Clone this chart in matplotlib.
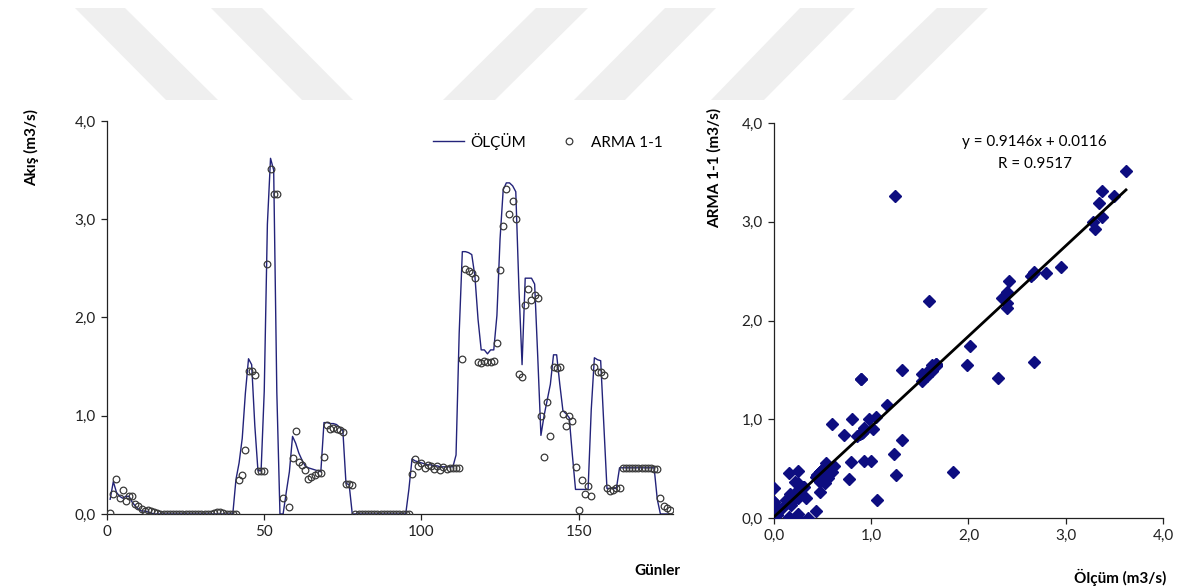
import numpy as np
import matplotlib.pyplot as plt
from matplotlib.patches import Polygon
from matplotlib.lines import Line2D

plt.rcParams['font.family'] = ['Lato', 'DejaVu Sans']

# daily observed flow (ÖLÇÜM), days 1..179
olcum = [0.15, 0.33, 0.22, 0.18, 0.16, 0.18, 0.18, 0.12, 0.08, 0.05,
         0.03, 0.03, 0.02, 0.01] + [0.0] * 26 + \
        [0.35, 0.52, 0.77, 1.23, 1.58, 1.52, 0.90, 0.44, 0.44, 1.25,
         2.95, 3.62, 3.50, 1.24, 0.0, 0.0, 0.22, 0.43, 0.79, 0.72,
         0.62, 0.55, 0.49, 0.47, 0.46, 0.45, 0.44, 0.43, 0.93, 0.93,
         0.92, 0.92, 0.91, 0.88, 0.85, 0.31, 0.30] + [0.0] * 18 + \
        [0.25, 0.56, 0.54, 0.53, 0.52, 0.51, 0.50, 0.50, 0.49, 0.49,
         0.48, 0.48, 0.48, 0.48, 0.48, 0.60, 1.84, 2.67, 2.67, 2.66,
         2.64, 2.42, 1.98, 1.67, 1.67, 1.63, 1.67, 1.67, 2.02, 2.80,
         3.30, 3.37, 3.37, 3.34, 3.28, 2.30, 1.52, 2.40, 2.40, 2.40,
         2.34, 1.59, 0.80, 1.00, 1.16, 1.32, 1.62, 1.62, 1.32, 1.05,
         1.02, 0.98, 0.60, 0.25, 0.25, 0.25, 0.25, 0.25, 1.06, 1.59,
         1.57, 1.56, 0.90, 0.26, 0.26, 0.26, 0.26, 0.47] + [0.47] * 10 + \
        [0.47, 0.15, 0.0, 0.0, 0.0, 0.0]

# ARMA(1,1) model output for the same days (negative values fall below the axis)
arma = [0.01, 0.20, 0.36, 0.16, 0.24, 0.13, 0.18, 0.18, 0.10, 0.08,
        0.05, 0.03, 0.04, 0.03, 0.02, 0.01] + [0.0] * 17 + \
       [0.01, 0.02, 0.02, 0.01, 0.0, 0.0, 0.0,
        0.0, 0.35, 0.40, 0.65, 1.46, 1.46, 1.41, 0.44, 0.44, 0.44,
        2.54, 3.51, 3.26, 3.26, -0.45, 0.16, -0.25, 0.07, 0.57, 0.84,
        0.53, 0.50, 0.45, 0.36, 0.38, 0.40, 0.42, 0.42, 0.58, 0.91,
        0.87, 0.88, 0.86, 0.85, 0.83, 0.31, 0.31, 0.30] + [0.0] * 17 + \
       [0.0, 0.41, 0.56, 0.49, 0.52, 0.47, 0.50, 0.49, 0.46, 0.49,
        0.45, 0.48, 0.46, 0.47, 0.47, 0.47, 0.47, 1.58, 2.49, 2.47,
        2.45, 2.40, 1.55, 1.54, 1.56, 1.55, 1.55, 1.56, 1.74, 2.48,
        2.93, 3.31, 3.05, 3.19, 3.00, 1.42, 1.39, 2.13, 2.29, 2.18,
        2.23, 2.20, 1.00, 0.58, 1.14, 0.79, 1.50, 1.49, 1.50, 1.02,
        0.90, 1.00, 0.95, 0.48, 0.04, 0.35, 0.20, 0.28, 0.18, 1.50,
        1.44, 1.45, 1.41, 0.26, 0.23, 0.24, 0.26, 0.26] + [0.47] * 10 + \
       [0.46, 0.46, 0.16, 0.08, 0.06, 0.04]

days = np.arange(1, len(olcum) + 1)

# regression reported in the chart
slope, intercept, r_value = 0.9146, 0.0116, 0.9517

y_ticks = [0, 1, 2, 3, 4]
x_ticks_left = [0, 50, 100, 150]

line_color = '#23237a'
diamond_color = '#0d0d80'
circle_color = '#3a3a3a'


def comma_fmt(v):
    return f'{v:.1f}'.replace('.', ',')


fig = plt.figure(figsize=(11.84, 5.87), dpi=100)

# light watermark stripes at the top
stripes = [
    [(75, 8), (125, 8), (218, 100), (166, 100)],
    [(211, 8), (262, 8), (353, 100), (302, 100)],
    [(536, 8), (588, 8), (495, 100), (443, 100)],
    [(665, 8), (716, 8), (625, 100), (574, 100)],
    [(800, 8), (855, 8), (764, 100), (711, 100)],
    [(937, 8), (988, 8), (895, 100), (842, 100)],
]
for s in stripes:
    pts = [(x / 1184, 1 - y / 587) for x, y in s]
    fig.patches.append(Polygon(pts, closed=True, transform=fig.transFigure,
                               facecolor='#efefef', edgecolor='none', zorder=0))

# ---- left: time series
ax1 = fig.add_axes([0.0904, 0.1244, 0.478, 0.6695])
ax1.plot(days, olcum, color=line_color, lw=1.0, label='ÖLÇÜM', zorder=2)
ax1.plot(days, arma, linestyle='none', marker='o', ms=4.8, mfc='none',
         mec=circle_color, mew=0.9, label='ARMA 1-1', zorder=3)
ax1.set_xlim(0, 180)
ax1.set_ylim(0, 4)
ax1.set_xticks(x_ticks_left)
ax1.set_yticks(y_ticks)
ax1.set_yticklabels([comma_fmt(v) for v in y_ticks])

handles = [Line2D([], [], color=line_color, lw=1.0),
           Line2D([], [], linestyle='none', marker='o', ms=4.8, mfc='none',
                  mec=circle_color, mew=0.9)]
ax1.legend(handles, ['ÖLÇÜM', 'ARMA 1-1'], loc='upper left',
           bbox_to_anchor=(0.552, 1.005), ncol=2, frameon=False,
           fontsize=11, handlelength=2.0, handletextpad=0.45,
           columnspacing=1.8)

fig.text(32 / 1184, 1 - 148 / 587, 'Akış (m3/s)', rotation=90,
         ha='center', va='center', fontsize=11, fontweight='bold')
fig.text(680 / 1184, 1 - 571 / 587, 'Günler', ha='right', va='center',
         fontsize=11, fontweight='bold')

# ---- right: scatter of model vs observation
ax2 = fig.add_axes([0.6537, 0.1175, 0.3285, 0.673])
ax2.plot(olcum, arma, linestyle='none', marker='D', ms=5.8,
         color=diamond_color, zorder=3)
fit_x = np.array([0.0, max(olcum)])
ax2.plot(fit_x, slope * fit_x + intercept, color='black', lw=2.0, zorder=4)
ax2.set_xlim(0, 4)
ax2.set_ylim(0, 4)
ax2.set_xticks(y_ticks)
ax2.set_xticklabels([comma_fmt(v) for v in y_ticks])
ax2.set_yticks(y_ticks)
ax2.set_yticklabels([comma_fmt(v) for v in y_ticks])
ax2.text(0.67, 0.953, f'y = {slope:.4f}x + {intercept:.4f}',
         transform=ax2.transAxes, ha='center', va='center', fontsize=11)
ax2.text(0.67, 0.897, f'R = {r_value:.4f}', transform=ax2.transAxes,
         ha='center', va='center', fontsize=11)

fig.text(714 / 1184, 1 - 168 / 587, 'ARMA 1-1 (m3/s)', rotation=90,
         ha='center', va='center', fontsize=11, fontweight='bold')
fig.text(1166 / 1184, 1 - 577 / 587, 'Ölçüm (m3/s)', ha='right',
         va='center', fontsize=11, fontweight='bold')

for ax in (ax1, ax2):
    for side in ('top', 'right'):
        ax.spines[side].set_visible(False)
    for side in ('left', 'bottom'):
        ax.spines[side].set_linewidth(0.9)
        ax.spines[side].set_color('#222222')
    ax.tick_params(direction='out', length=4, width=0.9, labelsize=11,
                   colors='#222222', pad=4)
    ax.patch.set_alpha(0)

fig.savefig('out.png', dpi=100)
